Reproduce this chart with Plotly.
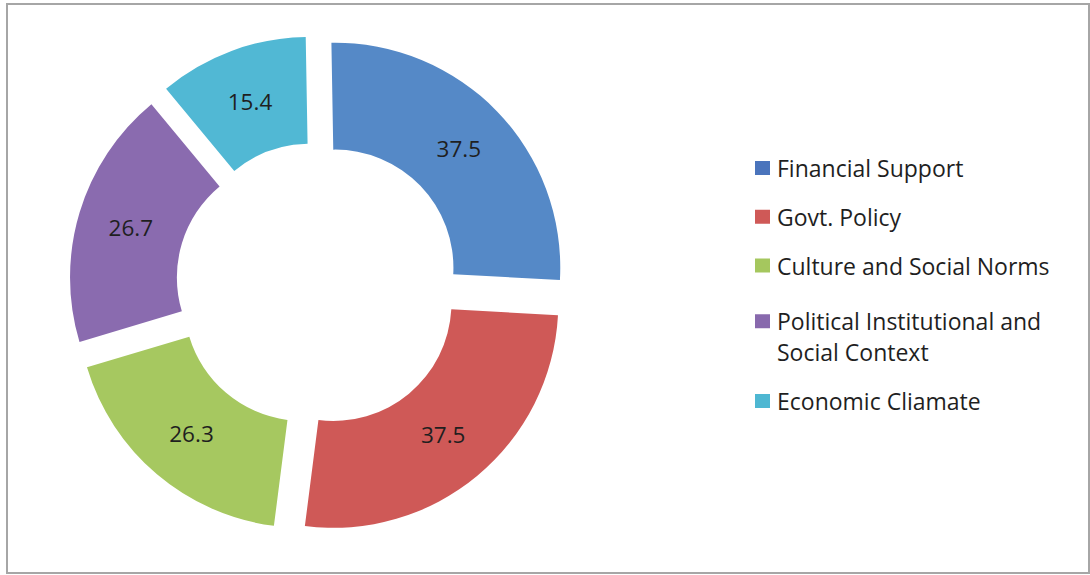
import plotly.graph_objects as go

# Survey factors and their scores
labels = [
    "Financial Support",
    "Govt. Policy",
    "Culture and Social Norms",
    "Political Institutional and<br>Social Context",
    "Economic Cliamate",
]
values = [37.5, 37.5, 26.3, 26.7, 15.4]
slice_colors = ["#5589C7", "#CF5957", "#A6C860", "#8A6BAF", "#51B8D4"]
key_colors = ["#4A74BC", "#CF5957", "#A5C75E", "#8869AD", "#4EB7D2"]

W, H = 1090, 575
FONT = "'Open Sans', Lato, sans-serif"
TEXT = "#1F1F1F"

fig = go.Figure(
    go.Pie(
        labels=labels,
        values=values,
        sort=False,
        direction="clockwise",
        rotation=-1,
        hole=0.525,
        pull=0.107,
        marker=dict(colors=slice_colors, line=dict(width=0)),
        texttemplate="%{value}",
        textposition="inside",
        insidetextorientation="horizontal",
        textfont=dict(family=FONT, size=22.5, color=TEXT),
        showlegend=False,
        domain=dict(x=[69 / W, 567 / W], y=[1 - 533.4 / H, 1 - 35.4 / H]),
    )
)

shapes = [
    # chart frame
    dict(type="rect", xref="paper", yref="paper",
         x0=7 / W, x1=1089 / W, y0=1 - 573 / H, y1=1 - 4 / H,
         line=dict(color="#A6A6A6", width=2), fillcolor="rgba(0,0,0,0)"),
]
annotations = []

# legend on the right: colour key squares with their labels
row_y = 168.0
row_step = 48.75
line_step = 31.0
wrap_pad = 7.0
key_x0, key_x1, text_x = 755, 770, 775
for name, col in zip(labels, key_colors):
    lines = name.split("<br>")
    if len(lines) > 1:
        row_y += wrap_pad
    shapes.append(dict(type="rect", xref="paper", yref="paper",
                       x0=key_x0 / W, x1=key_x1 / W,
                       y0=1 - (row_y + 7) / H, y1=1 - (row_y - 7) / H,
                       line=dict(width=0), fillcolor=col))
    for i, ln in enumerate(lines):
        annotations.append(dict(xref="paper", yref="paper",
                                x=text_x / W, y=1 - (row_y + i * line_step) / H,
                                xanchor="left", yanchor="middle", showarrow=False,
                                text=ln, font=dict(family=FONT, size=23, color=TEXT)))
    row_y += row_step + line_step * (len(lines) - 1)

fig.update_layout(
    width=W, height=H,
    margin=dict(l=0, r=0, t=0, b=0),
    paper_bgcolor="white",
    plot_bgcolor="white",
    shapes=shapes,
    annotations=annotations,
)

fig.write_html("out.html")
